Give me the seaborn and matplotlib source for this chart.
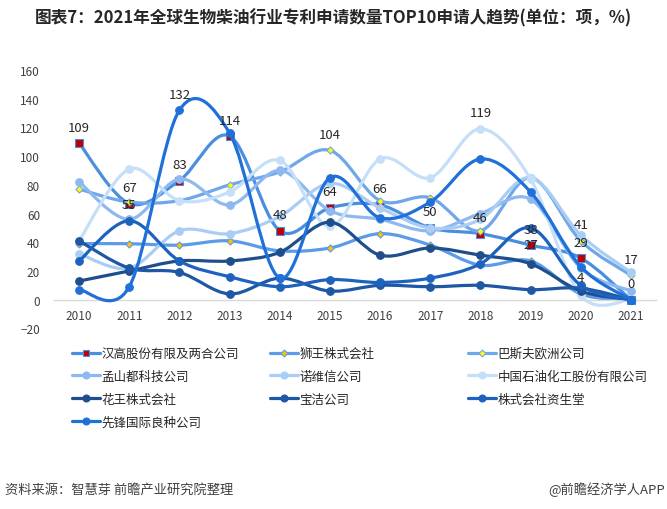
import matplotlib
matplotlib.use("Agg")
import matplotlib.pyplot as plt
import seaborn as sns
from matplotlib.path import Path
from matplotlib.patches import PathPatch
from matplotlib.lines import Line2D

# 数据
years = [2010, 2011, 2012, 2013, 2014, 2015, 2016, 2017, 2018, 2019, 2020, 2021]
henkel = [109, 67, 83, 114, 48, 64, 66, 50, 46, 38, 29, 0]
lion = [39, 39, 38, 41, 34, 36, 46, 38, 24, 27, 4, 0]
basf = [77, 68, 69, 80, 89, 104, 69, 71, 48, 85, 41, 17]
monsanto = [82, 56, 84, 66, 90, 62, 56, 48, 60, 70, 22, 6]
novozymes = [32, 22, 48, 46, 58, 81, 64, 50, 56, 85, 45, 19]
sinopec = [41, 91, 69, 75, 97, 51, 98, 85, 119, 84, 3, 0]
kao = [13, 20, 27, 27, 33, 54, 31, 36, 31, 25, 6, 0]
pg = [41, 22, 19, 4, 15, 6, 10, 9, 10, 7, 8, 0]
shiseido = [27, 55, 27, 16, 9, 14, 12, 15, 25, 50, 10, 0]
pioneer = [7, 9, 132, 116, 15, 85, 57, 68, 98, 75, 23, 0]

names = ["汉高股份有限及两合公司", "狮王株式会社", "巴斯夫欧洲公司",
         "孟山都科技公司", "诺维信公司", "中国石油化工股份有限公司",
         "花王株式会社", "宝洁公司", "株式会社资生堂", "先锋国际良种公司"]
series = [henkel, lion, basf, monsanto, novozymes, sinopec, kao, pg, shiseido, pioneer]

# 数据标签
label_years = [2010, 2011, 2011, 2012, 2012, 2013, 2014, 2015, 2015, 2016, 2017,
               2018, 2018, 2019, 2019, 2020, 2020, 2020, 2021, 2021]
label_values = [109, 67, 55, 132, 83, 114, 48, 104, 64, 66, 50,
                119, 46, 38, 27, 41, 29, 4, 17, 0]

line_colors = ["#4A8EE0", "#5B9BE8", "#6FA7EA", "#8DB9F0", "#AACDF5", "#C6DFF9",
               "#1F4E8C", "#1E57A4", "#1D63BE", "#1F70D8"]
marker_style = ["s", "D", "D", "o", "o", "o", "o", "o", "o", "o"]
marker_face = ["#C00000", "#FFC000", "#FFFF00"] + line_colors[3:]


def smooth_path(xs, ys):
    pts = list(zip(xs, ys))
    verts = [pts[0]]
    codes = [Path.MOVETO]
    for i in range(len(pts) - 1):
        p0 = pts[i - 1] if i > 0 else pts[i]
        p1 = pts[i]
        p2 = pts[i + 1]
        p3 = pts[i + 2] if i + 2 < len(pts) else pts[i + 1]
        c1 = (p1[0] + (p2[0] - p0[0]) / 6, p1[1] + (p2[1] - p0[1]) / 6)
        c2 = (p2[0] - (p3[0] - p1[0]) / 6, p2[1] - (p3[1] - p1[1]) / 6)
        verts += [c1, c2, p2]
        codes += [Path.CURVE4] * 3
    return Path(verts, codes)


sns.set_style("white")
plt.rcParams['font.family'] = ['Noto Sans CJK SC', 'DejaVu Sans']

fig = plt.figure(figsize=(6.67, 5.10), dpi=100)
ax = fig.add_axes([54 / 667, 1 - 329.4 / 510, 602 / 667, 258.4 / 510])

handles = []
for i, vals in enumerate(series):
    col = line_colors[i]
    ax.add_patch(PathPatch(smooth_path(years, vals), facecolor="none",
                           edgecolor=col, linewidth=2.3, zorder=2 + i * 0.1,
                           capstyle="round"))
    size = {"s": 34, "D": 13, "o": 30}[marker_style[i]]
    sns.scatterplot(x=years, y=vals, ax=ax, marker=marker_style[i], s=size,
                    color=marker_face[i], edgecolor=col, linewidth=0.8,
                    zorder=2.05 + i * 0.1, legend=False)
    handles.append(Line2D([], [], color=col, lw=2.3, marker=marker_style[i],
                          markersize=5 if marker_style[i] != "D" else 3.5,
                          markerfacecolor=marker_face[i], markeredgecolor=col,
                          markeredgewidth=0.8))

for yr, v in zip(label_years, label_values):
    ax.annotate(str(v), (yr, v), xytext=(0, 11.5), textcoords="offset points",
                ha="center", va="center", fontsize=9.5, color="#262626", zorder=5)

ax.set_xlim(2009.5, 2021.5)
ax.set_ylim(-20, 160)
ax.set_xticks(years)
ax.set_xticklabels([str(y) for y in years])
ax.set_yticks(range(-20, 161, 20))
ax.tick_params(axis="both", length=0, labelsize=8.5, labelcolor="#404040")
ax.tick_params(axis="x", pad=7)
ax.tick_params(axis="y", pad=10)
for s in ["top", "right", "left"]:
    ax.spines[s].set_visible(False)
ax.spines["bottom"].set_position(("data", 0))
ax.spines["bottom"].set_color("#D9D9D9")
ax.spines["bottom"].set_linewidth(1)
ax.set_facecolor("none")

# 图例: 三列
cols = [[0, 3, 6, 9], [1, 4, 7], [2, 5, 8]]
col_x = [72, 270, 468]
for c, idx in enumerate(cols):
    fig.legend([handles[k] for k in idx], [names[k] for k in idx],
               loc="upper left", bbox_to_anchor=(col_x[c] / 667, 1 - 348 / 510),
               frameon=False, fontsize=9, handlelength=2.2, handletextpad=0.15,
               labelspacing=0.78, borderpad=0, borderaxespad=0, labelcolor="#262626")

fig.text(0.5, 1 - 18 / 510, "图表7：2021年全球生物柴油行业专利申请数量TOP10申请人趋势(单位：项，%)",
         ha="center", va="center", fontsize=12, fontweight="bold", color="#262626")
fig.text(5 / 667, 1 - 490 / 510, "资料来源：智慧芽 前瞻产业研究院整理",
         ha="left", va="center", fontsize=9.5, color="#404040")
fig.text(665 / 667, 1 - 490 / 510, "@前瞻经济学人APP",
         ha="right", va="center", fontsize=9.5, color="#404040")

fig.savefig("out.png", dpi=100)
